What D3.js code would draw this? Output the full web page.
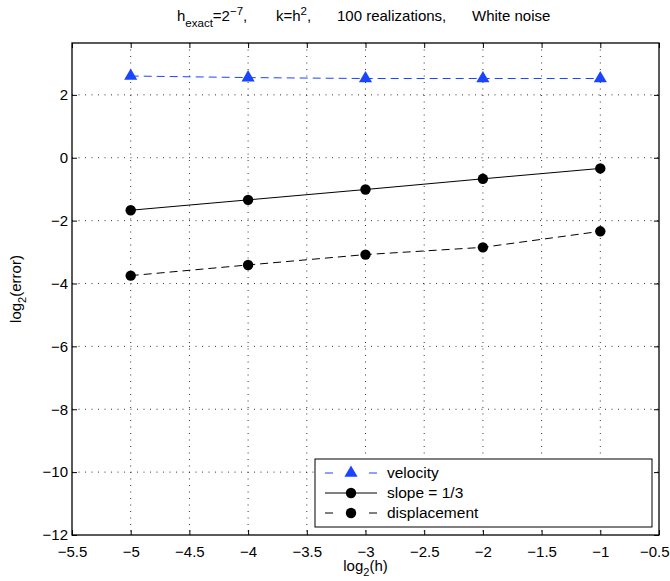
<!DOCTYPE html>
<html>
<head>
<meta charset="utf-8">
<script src="https://cdn.jsdelivr.net/npm/d3@7"></script>
<style>
  body { margin: 0; background: #fff; }
  text { font-family: "Liberation Sans", Arial, Helvetica, sans-serif; fill: #000; }
</style>
</head>
<body>
<div id="chart"></div>
<script>
// data
var hLog = [-5, -4, -3, -2, -1];
var velocity = [2.6, 2.55, 2.52, 2.52, 2.52];
var slope = [-1.67, -1.34, -1.01, -0.67, -0.34];
var displacement = [-3.75, -3.41, -3.08, -2.85, -2.34];
var xTicks = [-5.5, -5, -4.5, -4, -3.5, -3, -2.5, -2, -1.5, -1, -0.5];
var yTicks = [2, 0, -2, -4, -6, -8, -10, -12];

var series = [
  { name: "velocity", values: velocity, color: "#1a45ff", dash: "8,5", marker: "triangle" },
  { name: "slope = 1/3", values: slope, color: "#000", dash: null, marker: "circle" },
  { name: "displacement", values: displacement, color: "#000", dash: "8,5", marker: "circle" }
];

var W = 670, H = 581;
var margin = { top: 43, right: 11, bottom: 46, left: 72 };
var width = W - margin.left - margin.right,
    height = H - margin.top - margin.bottom;

var svg = d3.select("#chart").append("svg")
    .attr("width", W)
    .attr("height", H);

var g = svg.append("g")
    .attr("transform", "translate(" + margin.left + "," + margin.top + ")");

var x = d3.scaleLinear().domain([-5.5, -0.5]).range([0, width]);
var y = d3.scaleLinear().domain([-12, 3.65]).range([height, 0]);

function fmt(d) { return String(d).replace("-", "\u2212"); }

// grid (dotted)
g.append("g").selectAll("line")
    .data(xTicks.slice(1, -1))
  .enter().append("line")
    .attr("x1", function(d) { return x(d); })
    .attr("x2", function(d) { return x(d); })
    .attr("y1", 0).attr("y2", height)
    .style("stroke", "#333")
    .style("stroke-width", 1)
    .style("stroke-dasharray", "1,5.5");

g.append("g").selectAll("line")
    .data(yTicks.slice(0, -1))
  .enter().append("line")
    .attr("y1", function(d) { return y(d); })
    .attr("y2", function(d) { return y(d); })
    .attr("x1", 0).attr("x2", width)
    .style("stroke", "#333")
    .style("stroke-width", 1)
    .style("stroke-dasharray", "1,5.5");

// axes, ticks pointing inside
var xAxis = g.append("g")
    .attr("transform", "translate(0," + height + ")")
    .call(d3.axisBottom(x).tickValues(xTicks).tickSize(-5).tickPadding(11).tickFormat(fmt));
var xTop = g.append("g")
    .call(d3.axisTop(x).tickValues(xTicks).tickSize(-5).tickFormat(""));
var yAxis = g.append("g")
    .call(d3.axisLeft(y).tickValues(yTicks).tickSize(-5).tickPadding(4).tickFormat(fmt));
var yRight = g.append("g")
    .attr("transform", "translate(" + width + ",0)")
    .call(d3.axisRight(y).tickValues(yTicks).tickSize(-5).tickFormat(""));

[xAxis, xTop, yAxis, yRight].forEach(function(a) {
  a.select(".domain").remove();
  a.selectAll("line").style("stroke", "#000");
  a.selectAll("text").style("font-size", "15px")
    .style("font-family", "'Liberation Sans', Arial, sans-serif");
});

// last x label sits at the page edge; keep it inside
xAxis.selectAll(".tick text")
    .filter(function(d) { return d == -0.5; })
    .attr("text-anchor", "end")
    .attr("x", 10);

g.append("rect")
    .attr("width", width).attr("height", height)
    .style("fill", "none").style("stroke", "#000").style("stroke-width", 1.3);

// lines
var line = d3.line()
    .x(function(d, i) { return x(hLog[i]); })
    .y(function(d) { return y(d); });

var tri = d3.symbol().type(d3.symbolTriangle).size(75);

function drawMarker(sel, s) {
  if (s.marker == "triangle") {
    sel.append("path")
        .attr("d", tri)
        .style("fill", s.color);
  } else {
    sel.append("circle")
        .attr("r", 5.2)
        .style("fill", s.color);
  }
}

series.forEach(function(s) {
  g.append("path")
      .datum(s.values)
      .attr("d", line)
      .style("fill", "none")
      .style("stroke", s.color)
      .style("stroke-width", 1)
      .style("stroke-dasharray", s.dash);

  g.append("g").selectAll("g")
      .data(s.values)
    .enter().append("g")
      .attr("transform", function(d, i) { return "translate(" + x(hLog[i]) + "," + y(d) + ")"; })
      .each(function() { drawMarker(d3.select(this), s); });
});

// legend
var legend = g.append("g")
    .attr("transform", "translate(" + (315 - margin.left) + "," + (459 - margin.top) + ")");
legend.append("rect")
    .attr("width", 337).attr("height", 68)
    .style("fill", "#fff").style("stroke", "#000").style("stroke-width", 1);

series.forEach(function(s, i) {
  var row = legend.append("g").attr("transform", "translate(0," + (14 + i * 20) + ")");
  if (s.dash) {
    row.append("line").attr("x1", 10).attr("x2", 18).style("stroke", s.color);
    row.append("line").attr("x1", 54).attr("x2", 62).style("stroke", s.color);
  } else {
    row.append("line").attr("x1", 10).attr("x2", 62).style("stroke", s.color);
  }
  var m = row.append("g").attr("transform", "translate(36,0)");
  drawMarker(m, s);
  row.append("text")
      .attr("x", 72).attr("y", 5)
      .style("font-size", "15.5px")
      .text(s.name);
});

// title, in four pieces placed like the original
var titleY = 21;
function sub(t, txt) { t.append("tspan").attr("dy", 6).style("font-size", "11.5px").text(txt); }
function sup(t, txt) { t.append("tspan").attr("dy", -6).style("font-size", "11.5px").text(txt); }

var t1 = svg.append("text").attr("x", 177).attr("y", titleY).style("font-size", "15px");
t1.append("tspan").text("h");
sub(t1, "exact");
t1.append("tspan").attr("dy", -6).text("=2");
sup(t1, "\u22127");
t1.append("tspan").attr("dy", 6).text(",");

var t2 = svg.append("text").attr("x", 276).attr("y", titleY).style("font-size", "15px");
t2.append("tspan").text("k=h");
sup(t2, "2");
t2.append("tspan").attr("dy", 6).text(",");

svg.append("text").attr("x", 337).attr("y", titleY).style("font-size", "15px")
    .text("100 realizations,");
svg.append("text").attr("x", 472).attr("y", titleY).style("font-size", "15px")
    .text("White noise");

// axis labels
var xl = svg.append("text")
    .attr("x", margin.left + width / 2)
    .attr("y", 571)
    .attr("text-anchor", "middle")
    .style("font-size", "15px");
xl.append("tspan").text("log");
xl.append("tspan").attr("dy", 5).style("font-size", "11px").text("2");
xl.append("tspan").attr("dy", -5).text("(h)");

var yl = svg.append("text")
    .attr("transform", "translate(21," + (margin.top + height / 2) + ") rotate(-90)")
    .attr("text-anchor", "middle")
    .style("font-size", "15px");
yl.append("tspan").text("log");
yl.append("tspan").attr("dy", 5).style("font-size", "11px").text("2");
yl.append("tspan").attr("dy", -5).text("(error)");
</script>
</body>
</html>
